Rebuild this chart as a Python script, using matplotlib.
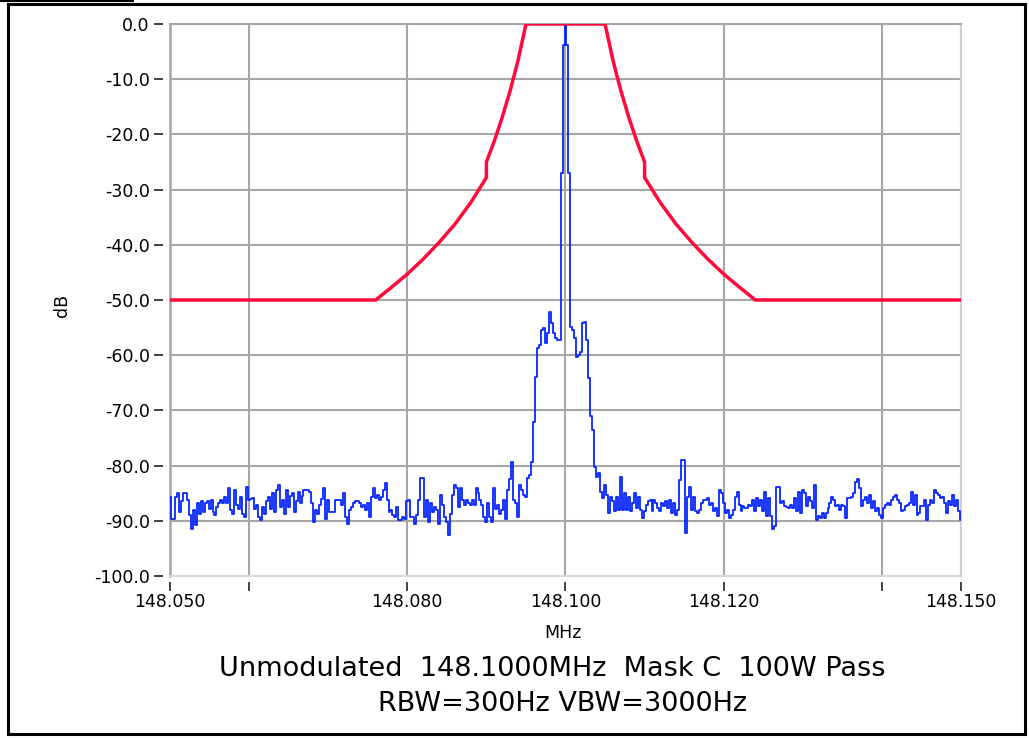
import numpy as np
import matplotlib
matplotlib.use("Agg")
import matplotlib.pyplot as plt
from matplotlib.lines import Line2D

# ---------------- data ----------------
center_mhz = 148.100
x_min, x_max = 148.050, 148.150

# Mask C (offset from carrier in kHz, limit in dB)
mask_offset_khz = [-50, -24, -22, -20, -18, -16, -14, -12, -10, -10, -9, -8, -7, -6, -5,
                   5, 6, 7, 8, 9, 10, 10, 12, 14, 16, 18, 20, 22, 24, 50]
mask_db = [-50.0, -50.0, -47.7, -45.3, -42.6, -39.6, -36.3, -32.4, -27.8, -25.0, -21.2, -16.9, -12.1, -6.6, 0.0,
           0.0, -6.6, -12.1, -16.9, -21.2, -25.0, -27.8, -32.4, -36.3, -39.6, -42.6, -45.3, -47.7, -50.0, -50.0]

# measured spectrum (dB), evenly spaced from 148.050 to 148.150 MHz
trace_db = [
    -85.6, -89.6, -89.6, -85.6, -85.0, -88.4, -86.5, -85.0, -85.0, -86.2,
    -89.0, -91.4, -88.0, -90.8, -86.8, -88.7, -86.5, -88.4, -86.8, -86.5,
    -87.8, -86.2, -88.4, -89.0, -87.5, -86.8, -86.2, -86.8, -85.6, -86.8,
    -84.0, -88.1, -88.7, -84.4, -87.2, -87.8, -85.6, -88.7, -89.3, -83.8,
    -86.2, -86.0, -85.8, -87.8, -87.2, -89.3, -89.9, -87.5, -88.7, -86.5,
    -85.6, -87.8, -85.0, -88.4, -84.4, -83.5, -87.5, -86.2, -88.7, -84.4,
    -87.5, -85.5, -85.0, -88.4, -86.5, -84.7, -86.8, -85.5, -84.4, -84.4,
    -84.4, -84.7, -86.8, -90.2, -88.1, -88.7, -87.2, -86.0, -84.1, -89.6,
    -86.2, -88.4, -88.4, -88.4, -86.2, -86.2, -86.2, -87.2, -85.0, -89.3,
    -90.5, -88.1, -87.5, -86.8, -86.5, -86.5, -86.8, -87.5, -87.2, -88.1,
    -86.8, -89.3, -85.6, -84.1, -85.9, -85.3, -86.2, -85.6, -84.4, -83.2,
    -86.2, -88.4, -88.1, -89.0, -89.3, -87.5, -89.9, -89.9, -89.3, -89.6,
    -86.5, -86.2, -89.3, -89.3, -90.5, -89.0, -86.2, -82.3, -82.3, -89.3,
    -86.2, -90.2, -86.8, -88.4, -87.5, -88.1, -90.5, -85.3, -87.2, -89.3,
    -90.2, -92.6, -88.7, -85.3, -83.5, -84.1, -87.5, -84.1, -86.2, -87.2,
    -86.2, -86.8, -87.2, -86.2, -87.2, -84.1, -85.0, -86.2, -87.2, -89.3,
    -90.2, -86.8, -89.3, -90.2, -84.1, -87.8, -87.2, -88.7, -88.1, -86.2,
    -89.6, -84.4, -82.5, -79.3, -86.2, -86.8, -89.3, -83.5, -84.4, -85.3,
    -85.6, -82.3, -81.7, -79.3, -72.1, -64.0, -58.7, -58.2, -55.4, -55.0,
    -57.8, -56.0, -52.2, -54.2, -56.0, -56.9, -57.2, -57.2, -27.0, -3.8,
    0.0, -3.8, -27.0, -54.9, -55.4, -56.9, -60.3, -60.0, -59.4, -54.2,
    -53.9, -57.2, -64.1, -71.1, -73.6, -80.2, -82.0, -81.4, -84.7, -85.9,
    -83.5, -85.3, -88.6, -85.6, -86.5, -88.3, -85.6, -88.0, -82.0, -88.0,
    -85.0, -88.0, -85.6, -88.3, -86.8, -85.0, -87.7, -85.6, -88.0, -89.5,
    -88.3, -87.1, -86.5, -86.2, -88.3, -86.2, -86.8, -87.7, -88.3, -86.8,
    -87.4, -86.5, -87.7, -86.2, -88.6, -86.8, -88.9, -88.0, -82.6, -79.0,
    -79.0, -92.3, -85.6, -83.8, -88.0, -85.6, -88.3, -88.6, -88.0, -86.8,
    -86.2, -86.2, -85.9, -87.1, -86.8, -88.3, -87.7, -89.2, -84.4, -85.0,
    -86.8, -88.6, -88.0, -89.5, -88.9, -88.0, -85.6, -84.7, -87.1, -88.3,
    -87.4, -87.7, -87.7, -87.1, -87.4, -86.2, -88.3, -85.9, -87.4, -86.2,
    -88.3, -84.7, -89.2, -85.9, -89.2, -91.4, -91.0, -83.8, -83.8, -86.8,
    -86.5, -87.4, -87.5, -87.7, -87.1, -87.7, -85.9, -88.3, -84.7, -88.6,
    -84.4, -85.0, -87.4, -85.6, -86.5, -87.7, -83.5, -89.8, -89.2, -89.5,
    -88.6, -89.5, -88.6, -87.7, -86.8, -85.6, -86.2, -87.4, -87.1, -88.0,
    -87.1, -87.4, -89.5, -85.9, -85.9, -85.6, -85.0, -82.9, -82.5, -84.1,
    -87.4, -86.2, -85.6, -86.8, -85.3, -87.7, -86.5, -88.3, -87.7, -88.9,
    -89.5, -87.7, -87.1, -86.8, -87.1, -86.2, -85.6, -85.3, -86.2, -86.8,
    -88.3, -88.0, -87.4, -87.1, -86.8, -84.7, -87.1, -85.3, -88.9, -88.6,
    -87.4, -87.4, -86.2, -89.8, -87.1, -86.2, -86.8, -84.4, -85.0, -85.3,
    -85.9, -85.6, -86.8, -88.6, -86.5, -87.1, -85.3, -87.4, -86.2, -88.3,
    -89.8,
]

x_ticks = [148.050, 148.060, 148.080, 148.100, 148.120, 148.140, 148.150]
x_tick_labels = ["148.050", "", "148.080", "148.100", "148.120", "", "148.150"]
y_ticks = [0, -10, -20, -30, -40, -50, -60, -70, -80, -90, -100]

title_line1 = "Unmodulated  148.1000MHz  Mask C  100W Pass"
title_line2 = "RBW=300Hz VBW=3000Hz"

# ---------------- figure ----------------
W, H = 1029, 738
fig = plt.figure(figsize=(W / 100, H / 100), dpi=100)
fig.patch.set_facecolor("white")

L, R, T, B = 170, 961, 24, 576
ax = fig.add_axes([L / W, 1 - B / H, (R - L) / W, (B - T) / H])

trace_x = np.linspace(x_min, x_max, len(trace_db))
mask_x = center_mhz + np.array(mask_offset_khz) / 1000.0

grid_col = "#a6a6a6"
ax.set_xlim(x_min, x_max)
ax.set_ylim(-100, 0)
ax.set_xticks(x_ticks)
ax.set_xticklabels(x_tick_labels)
ax.set_yticks(y_ticks)
ax.set_yticklabels([f"{v:.1f}" for v in y_ticks])

ax.grid(True, color=grid_col, linewidth=1.5, zorder=0)
ax.set_axisbelow(True)

ax.plot(trace_x, trace_db, color="#0626ff", linewidth=1.3, drawstyle="steps-mid", zorder=3,
        clip_on=True)
ax.plot(mask_x, mask_db, color="#ff0a3c", linewidth=2.5, zorder=4, solid_joinstyle="miter")

for s in ["left", "bottom"]:
    ax.spines[s].set_visible(True)
    ax.spines[s].set_color("none")
ax.spines["left"].set_position(("outward", 5))
ax.spines["bottom"].set_position(("outward", 4))
ax.spines["top"].set_color(grid_col)
ax.spines["right"].set_color("#d0d0d0")
ax.spines["top"].set_linewidth(1.5)
ax.spines["right"].set_linewidth(1.5)

# plot-area left/bottom edges
ax.add_line(Line2D([0, 0], [0, 1], transform=ax.transAxes, color=grid_col, lw=1.8, clip_on=False))
ax.add_line(Line2D([0, 1], [0, 0], transform=ax.transAxes, color="#d8d8d8", lw=1.5, clip_on=False))

ax.tick_params(axis="both", colors="#333333", labelcolor="black", labelsize=12.5,
               length=6.5, width=1.3, direction="out")
ax.tick_params(axis="y", pad=3)
ax.tick_params(axis="x", pad=2)

fig.text(62 / W, 1 - 305 / H, "dB", rotation=90, ha="center", va="center", fontsize=12.5)
fig.text(563 / W, 1 - 633 / H, "MHz", ha="center", va="center", fontsize=12.5)
fig.text(552 / W, 1 - 676 / H, title_line1, ha="center", va="baseline", fontsize=19.5)
fig.text(562 / W, 1 - 711 / H, title_line2, ha="center", va="baseline", fontsize=19.5)

# outer frame
fig.add_artist(Line2D([8 / W, 8 / W], [1 - 4 / H, 1 - 734 / H], color="black", lw=2.2))
fig.add_artist(Line2D([1025 / W, 1025 / W], [1 - 4 / H, 1 - 734 / H], color="black", lw=2.2))
fig.add_artist(Line2D([8 / W, 1025 / W], [1 - 4 / H, 1 - 4 / H], color="black", lw=2.2))
fig.add_artist(Line2D([8 / W, 1025 / W], [1 - 734 / H, 1 - 734 / H], color="black", lw=2.2))
fig.add_artist(Line2D([0, 133 / W], [1 - 0.8 / H, 1 - 0.8 / H], color="black", lw=1.5))

fig.savefig("out.png", dpi=100)
